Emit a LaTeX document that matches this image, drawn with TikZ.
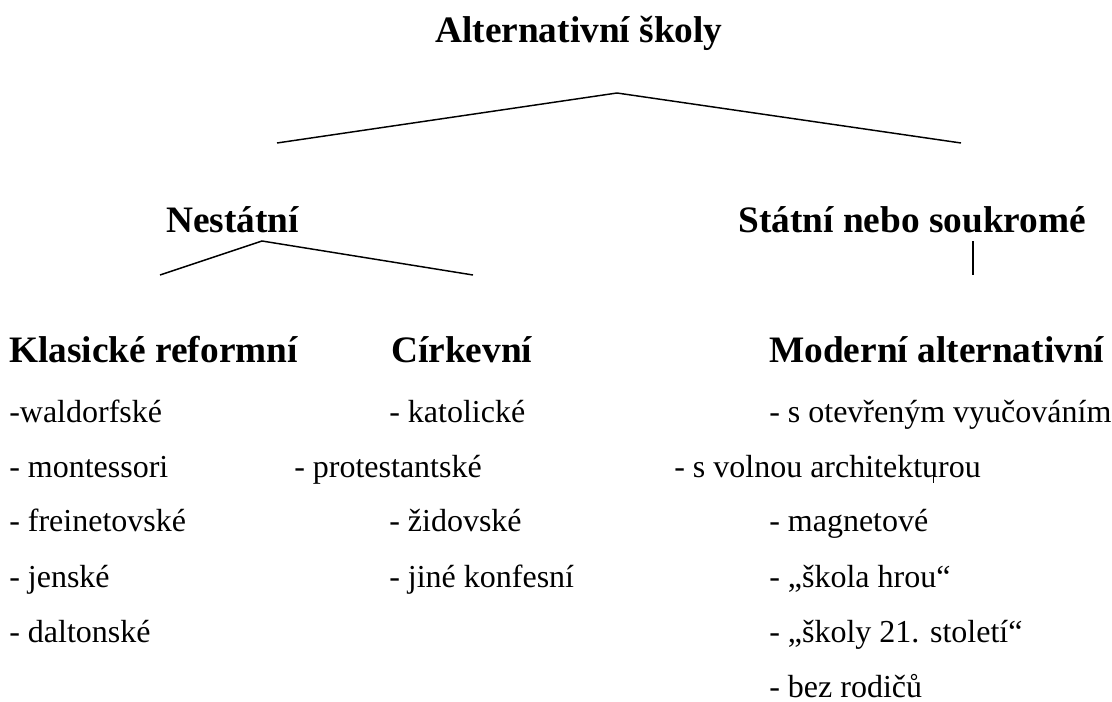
\documentclass[tikz,border=0pt]{standalone}
\usepackage{fontspec}
\setmainfont{Liberation Serif}
\usepackage{tikz}

\begin{document}
\begin{tikzpicture}[
    x=0.75pt, y=-0.75pt,
    head/.style={font=\fontsize{28}{32}\selectfont\bfseries, anchor=base west, inner sep=0pt},
    item/.style={font=\fontsize{24}{28}\selectfont, anchor=base west, inner sep=0pt},
    branch/.style={line width=1.1pt},
]
\useasboundingbox (0,0) rectangle (1112,702);

\node[head] (alt) at (435,43) {Alternativní školy};
\node[head] (nest) at (166,233) {Nestátní};
\node[head] (stat) at (738,233) {Státní nebo soukromé};

\node[head] (klas) at (9,362) {Klasické reformní};
\node[head] (cirk) at (391,362) {Církevní};
\node[head] (mod) at (769,362) {Moderní alternativní};

\node[item] (wald) at (9,422) {-waldorfské};
\node[item] (mont) at (9,477) {- montessori};
\node[item] (frei) at (9,531) {- freinetovské};
\node[item] (jen) at (9,587) {- jenské};
\node[item] (dalt) at (9,642) {- daltonské};

\node[item] (kat) at (389,422) {- katolické};
\node[item] (prot) at (294,477) {- protestantské};
\node[item] (zid) at (389,531) {- židovské};
\node[item] (jine) at (389,587) {- jiné konfesní};

\node[item] (otev) at (769,422) {- s otevřeným vyučováním};
\node[item] (voln) at (674,477) {- s volnou architekturou};
\node[item] (magn) at (769,531) {- magnetové};
\node[item] (hrou) at (769,587) {- „škola hrou“};
\node[item] (stol) at (769,642) {- „školy 21. století“};
\node[item] (rodi) at (769,697) {- bez rodičů};

\coordinate (altfork) at (617,93);
\coordinate (altleft) at (277,143);
\coordinate (altright) at (961,143);
\coordinate (nestfork) at (262,241);
\coordinate (nestleft) at (160,275);
\coordinate (nestright) at (473,275);
\coordinate (stattop) at (973,241);
\coordinate (statbot) at (973,275);
\coordinate (marktop) at (933,468);
\coordinate (markbot) at (933,483);

\draw[branch] (altleft) -- (altfork) -- (altright);
\draw[branch] (nestleft) -- (nestfork) -- (nestright);
\draw[branch] (stattop) -- (statbot);
\draw[line width=0.7pt] (marktop) -- (markbot);

\end{tikzpicture}
\end{document}
